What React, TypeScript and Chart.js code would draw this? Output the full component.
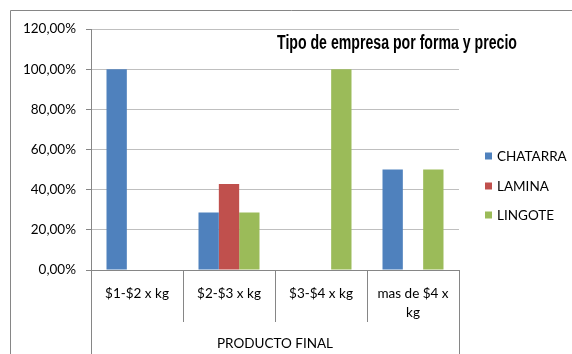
import React, { useEffect, useRef } from "react";
import { Chart, registerables } from "chart.js";

Chart.register(...registerables);

const categories: string[][] = [["$1-$2 x kg"], ["$2-$3 x kg"], ["$3-$4 x kg"], ["mas de $4 x", "kg"]];
const seriesNames = ["CHATARRA", "LAMINA", "LINGOTE"];
const chatarra = [1.0, 0.2857, 0, 0.5];
const lamina = [0, 0.4286, 0, 0];
const lingote = [0, 0.2857, 1.0, 0.5];
const seriesColors = ["#4F81BD", "#C0504D", "#9BBB59"];
const groupLabel = "PRODUCTO FINAL";
const titleText = "Tipo de empresa por forma y precio";
const yMin = 0;
const yMax = 1.2;
const yStep = 0.2;

const FONT = "Lato, 'Open Sans', sans-serif";
const AXIS = "#868686";

function fmtPct(v: number) {
  return (v * 100).toFixed(2).replace(".", ",") + "%";
}

const decorPlugin = {
  id: "decor",
  beforeDraw(chart: any) {
    const { ctx, width, height } = chart;
    ctx.save();
    ctx.fillStyle = "#fff";
    ctx.fillRect(0, 0, width, height);
    ctx.strokeStyle = AXIS;
    ctx.lineWidth = 1;
    ctx.beginPath();
    ctx.moveTo(10.5, height + 2);
    ctx.lineTo(10.5, 10.5);
    ctx.lineTo(width + 2, 10.5);
    ctx.stroke();
    ctx.restore();
  },
  afterDraw(chart: any) {
    const { ctx, chartArea, height } = chart;
    const x = chart.scales.x;
    const { left, right, bottom } = chartArea;
    ctx.save();
    ctx.strokeStyle = AXIS;
    ctx.lineWidth = 1;
    // baseline
    ctx.beginPath();
    ctx.moveTo(left - 5, Math.round(bottom) + 0.5);
    ctx.lineTo(right, Math.round(bottom) + 0.5);
    ctx.stroke();
    // separators
    const n = categories.length;
    const step = (right - left) / n;
    for (let i = 0; i <= n; i++) {
      const px = Math.round(left + step * i) + 0.5;
      const end = i === 0 || i === n ? height : bottom + 52;
      ctx.beginPath();
      ctx.moveTo(px, bottom);
      ctx.lineTo(px, end);
      ctx.stroke();
    }
    // category labels
    ctx.fillStyle = "#000";
    ctx.font = `13.5px ${FONT}`;
    ctx.textAlign = "center";
    ctx.textBaseline = "alphabetic";
    categories.forEach((lines, i) => {
      const cx = x.getPixelForValue(i);
      lines.forEach((ln, j) => {
        ctx.fillText(ln, cx, bottom + 28 + j * 19);
      });
    });
    // group label
    ctx.fillText(groupLabel, (left + right) / 2, bottom + 78);

    // title
    ctx.font = `bold 20px 'Liberation Sans Narrow', 'Arial Narrow', 'Liberation Sans', sans-serif`;
    const tw = ctx.measureText(titleText).width;
    const target = 240;
    ctx.save();
    ctx.translate(277, 49);
    ctx.scale(target / tw, 1);
    ctx.textAlign = "left";
    ctx.fillText(titleText, 0, 0);
    ctx.restore();

    // legend
    ctx.font = `13.5px ${FONT}`;
    ctx.textAlign = "left";
    ctx.textBaseline = "middle";
    const ys = [156, 186, 215];
    seriesNames.forEach((name, i) => {
      ctx.fillStyle = seriesColors[i];
      ctx.fillRect(485, ys[i] - 3.5, 7, 7);
      ctx.fillStyle = "#000";
      ctx.fillText(name, 497, ys[i] + 0.5);
    });
    ctx.restore();
  },
};

export default function App() {
  const ref = useRef<HTMLCanvasElement | null>(null);
  useEffect(() => {
    if (!ref.current) return;
    const chart = new Chart(ref.current, {
      type: "bar",
      data: {
        labels: categories.map((c) => c.join(" ")),
        datasets: [chatarra, lamina, lingote].map((d, i) => ({
          label: seriesNames[i],
          data: d,
          backgroundColor: seriesColors[i],
          borderWidth: 0,
          barPercentage: 1,
          categoryPercentage: 0.663,
        })),
      },
      options: {
        animation: false,
        responsive: false,
        maintainAspectRatio: false,
        devicePixelRatio: 1,
        layout: { padding: { top: 29, right: 113, left: 0, bottom: 0 } },
        plugins: {
          legend: { display: false },
          title: { display: false },
          tooltip: { enabled: false },
        },
        scales: {
          x: {
            ticks: { display: false },
            grid: { display: false },
            border: { display: false },
            afterFit: (s: any) => {
              s.height = 84;
            },
          },
          y: {
            min: yMin,
            max: yMax,
            ticks: {
              stepSize: yStep,
              padding: 10,
              color: "#000",
              font: { family: FONT, size: 13.5 },
              callback: (v: any) => fmtPct(Number(v)),
            },
            grid: { color: "#BFBFBF", tickColor: AXIS, tickLength: 5 },
            border: { color: AXIS },
            afterFit: (s: any) => {
              s.width = 91;
            },
          },
        },
      },
      plugins: [decorPlugin],
    });
    return () => chart.destroy();
  }, []);
  return (
    <div style={{ position: "fixed", left: 0, top: 0, width: 572, height: 354 }}>
      <canvas ref={ref} width={572} height={354} style={{ display: "block", width: 572, height: 354 }} />
    </div>
  );
}
